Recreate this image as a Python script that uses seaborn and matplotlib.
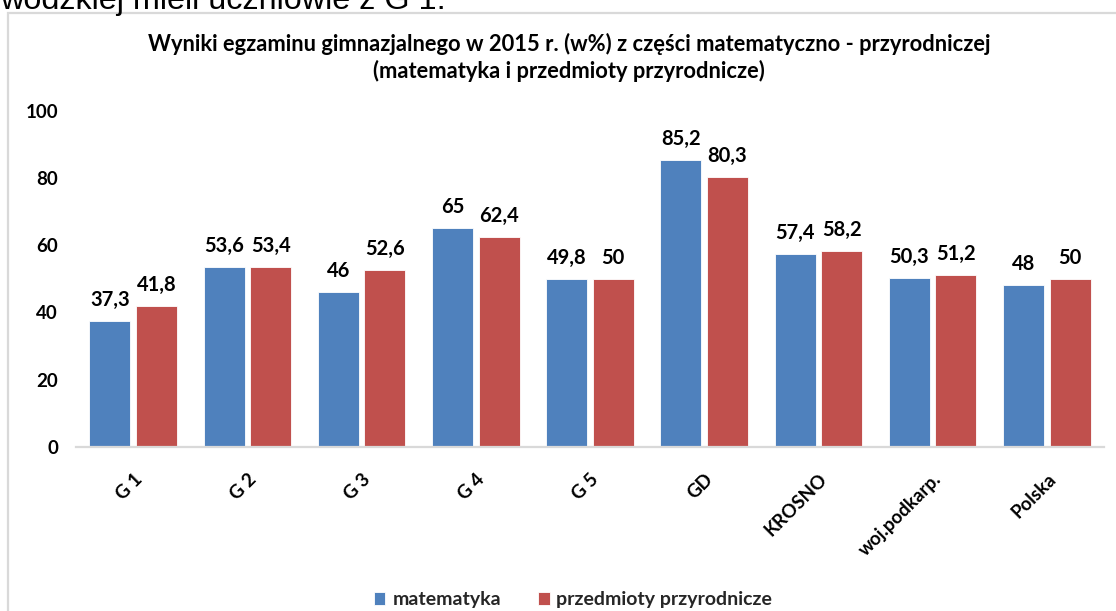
import matplotlib
matplotlib.use("Agg")
import matplotlib.pyplot as plt
import matplotlib.patches as mpatches
import seaborn as sns
import pandas as pd

categories = ["G 1", "G 2", "G 3", "G 4", "G 5", "GD", "KROSNO", "woj.podkarp.", "Polska"]
series_names = ["matematyka", "przedmioty przyrodnicze"]
matematyka = [37.3, 53.6, 46, 65, 49.8, 85.2, 57.4, 50.3, 48]
przyrodnicze = [41.8, 53.4, 52.6, 62.4, 50, 80.3, 58.2, 51.2, 50]
yticks = [0, 20, 40, 60, 80, 100]
title_text = "Wyniki egzaminu gimnazjalnego w 2015 r. (w%) z części matematyczno - przyrodniczej\n(matematyka i przedmioty przyrodnicze)"
top_text = "wodzkiej mieli uczniowie z G 1."

colors = {"matematyka": "#4F81BD", "przedmioty przyrodnicze": "#C0504D"}

df = pd.DataFrame({
    "kategoria": categories * 2,
    "seria": [series_names[0]] * len(categories) + [series_names[1]] * len(categories),
    "wynik": matematyka + przyrodnicze,
})

sns.set_theme(style="white")
plt.rcParams["font.family"] = ["Lato", "DejaVu Sans"]

W, H = 1116, 611
fig = plt.figure(figsize=(W / 100, H / 100), dpi=100)
fig.patch.set_facecolor("white")

# outer chart frame
frame = mpatches.Rectangle((8 / W, -0.1), 1.2, 1 - 12.5 / H + 0.1, transform=fig.transFigure,
                           fill=False, edgecolor="#d9d9d9", linewidth=1.6)
fig.patches.append(frame)

ax = fig.add_axes([76 / W, 1 - 447 / H, (1104 - 76) / W, (447 - 110.5) / H])
sns.barplot(data=df, x="kategoria", y="wynik", hue="seria", palette=colors,
            width=0.815, gap=0.117, ax=ax, edgecolor="white", linewidth=0.6,
            saturation=1, errorbar=None)

ax.set_ylim(0, 100)
ax.set_yticks(yticks)
ax.set_yticklabels([str(t) for t in yticks], fontweight="bold", fontsize=13.5, color="black")
ax.set_xlabel("")
ax.set_ylabel("")
for s in ["top", "right", "left"]:
    ax.spines[s].set_visible(False)
ax.spines["bottom"].set_color("#d9d9d9")
ax.spines["bottom"].set_linewidth(1.6)
ax.tick_params(axis="y", length=0, pad=13)
ax.tick_params(axis="x", length=0, pad=17)
ax.set_xticks(range(len(categories)))
ax.set_xticklabels(categories, rotation=45, ha="right", va="top", rotation_mode="anchor",
                   fontweight="bold", fontsize=13.5, color="black")
ax.set_xlim(-0.5, len(categories) - 0.5)

for cont in ax.containers:
    ax.bar_label(cont, fmt=lambda v: f"{v:g}".replace(".", ","), padding=8,
                 fontweight="bold", fontsize=14.5, color="black")

handles, labels = ax.get_legend_handles_labels()
if ax.get_legend() is not None:
    ax.get_legend().remove()
fig.legend(handles, labels, loc="center", bbox_to_anchor=(573 / W, 1 - 600 / H), ncol=2,
           frameon=False, handlelength=0.6, handleheight=0.6, handletextpad=0.35,
           columnspacing=1.9, prop={"weight": "bold", "size": 14})

# title, fitted to the reference width
t = fig.text(569 / W, 1 - 33 / H, title_text, ha="center", va="top", fontweight="bold",
             fontsize=13, linespacing=1.25, color="black")
fig.canvas.draw()
r = fig.canvas.get_renderer()
tmp = fig.text(0, 0, title_text.split("\n")[0], fontweight="bold", fontsize=13)
w = tmp.get_window_extent(r).width
tmp.remove()
t.set_fontsize(13 * 838 / w)

tt = fig.text(0, 1 - 9 / H, top_text, ha="left", va="baseline", fontsize=20,
              family=["Liberation Sans", "DejaVu Sans"], color="black")
fig.canvas.draw()
w2 = tt.get_window_extent(r).width
tt.set_fontsize(20 * 446 / w2)

fig.savefig("out.png", dpi=100)
